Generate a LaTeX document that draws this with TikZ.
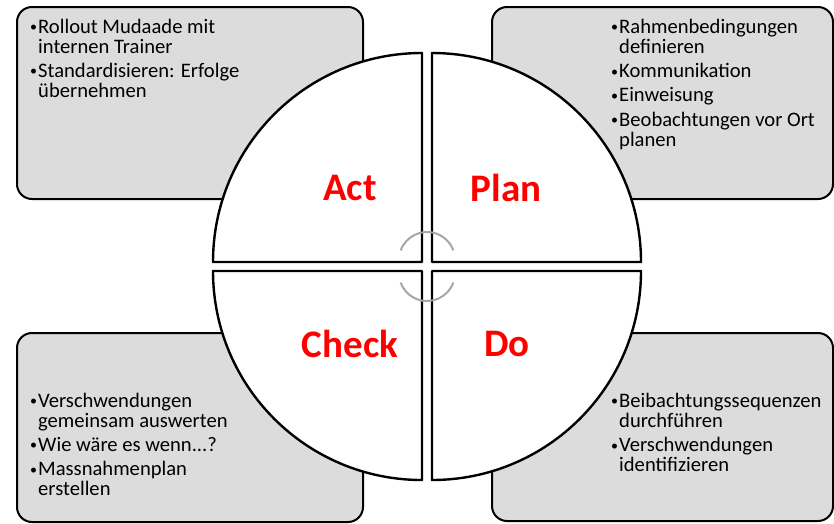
\documentclass[tikz,border=0pt]{standalone}
\usepackage{fontspec}
\setmainfont{Carlito}
\tikzset{>=latex}
\definecolor{boxfill}{HTML}{DCDCDC}
\definecolor{cyclegray}{HTML}{A6A6A6}
\definecolor{phasered}{HTML}{FF0000}
\newcommand{\bl}{\makebox[8pt][l]{\raisebox{1.5pt}{\fontsize{14}{14}\selectfont\textbullet}}}
\tikzset{
  notebox/.style={draw, line width=2pt, fill=boxfill, rounded corners=15pt, inner sep=0pt},
  notetext/.style={anchor=base west, inner sep=0pt, font=\fontsize{20.6}{20}\selectfont},
  quarter/.style={draw, line width=2.4pt, fill=white, line join=round},
  phase/.style={text=phasered, inner sep=0pt, font=\fontsize{39}{39}\selectfont\bfseries}
}

\begin{document}
\begin{tikzpicture}[x=1pt, y=-1pt]
            \useasboundingbox (0,0) rectangle (834,523);
            \node[notebox, minimum width=346pt, minimum height=192pt] (actbox) at (190,103) {};
            \node[notebox, minimum width=341pt, minimum height=192pt] (planbox) at (662.5,103) {};
            \node[notebox, minimum width=346pt, minimum height=189pt] (checkbox) at (190,427.5) {};
            \node[notebox, minimum width=341pt, minimum height=188pt] (dobox) at (662.5,427) {};
            \draw[quarter] (422,262) -- (213,262) arc[start angle=180, end angle=270, radius=209] -- cycle;
            \draw[quarter] (432,262) -- (432,53) arc[start angle=270, end angle=360, radius=209] -- cycle;
            \draw[quarter] (422,271) -- (422,480) arc[start angle=90, end angle=180, radius=209] -- cycle;
            \draw[quarter] (432,271) -- (641,271) arc[start angle=0, end angle=90, radius=209] -- cycle;
            \draw[cyclegray, line width=2pt] (427,260) ++(200:28) arc[start angle=200, end angle=340, radius=28];
            \draw[cyclegray, line width=2pt] (427,273) ++(20:28) arc[start angle=20, end angle=160, radius=28];
            \node[phase] (act) at (350,188) {Act};
            \node[phase] (plan) at (506,188) {Plan};
            \node[phase] (check) at (350,344) {Check};
            \node[phase] (do) at (507,344) {Do};
            \node[notetext] (acttext) at (30,33) {\begin{tabular}[t]{@{}l@{}l@{}}
                \bl & Rollout Mudaade mit\\ & internen Trainer\\[4pt]
                \bl & Standardisieren: Erfolge\\ & übernehmen
              \end{tabular}};
            \node[notetext] (plantext) at (611,33) {\begin{tabular}[t]{@{}l@{}l@{}}
                \bl & Rahmenbedingungen\\ & definieren\\[4pt]
                \bl & Kommunikation\\[4pt]
                \bl & Einweisung\\[4pt]
                \bl & Beobachtungen vor Ort\\ & planen
              \end{tabular}};
            \node[notetext] (checktext) at (30,407) {\begin{tabular}[t]{@{}l@{}l@{}}
                \bl & Verschwendungen\\ & gemeinsam auswerten\\[4pt]
                \bl & Wie wäre es wenn...?\\[4pt]
                \bl & Massnahmenplan\\ & erstellen
              \end{tabular}};
            \node[notetext] (dotext) at (611,407) {\begin{tabular}[t]{@{}l@{}l@{}}
                \bl & Beibachtungssequenzen\\ & durchführen\\[4pt]
                \bl & Verschwendungen\\ & identifizieren
              \end{tabular}};
        \end{tikzpicture}
\end{document}
